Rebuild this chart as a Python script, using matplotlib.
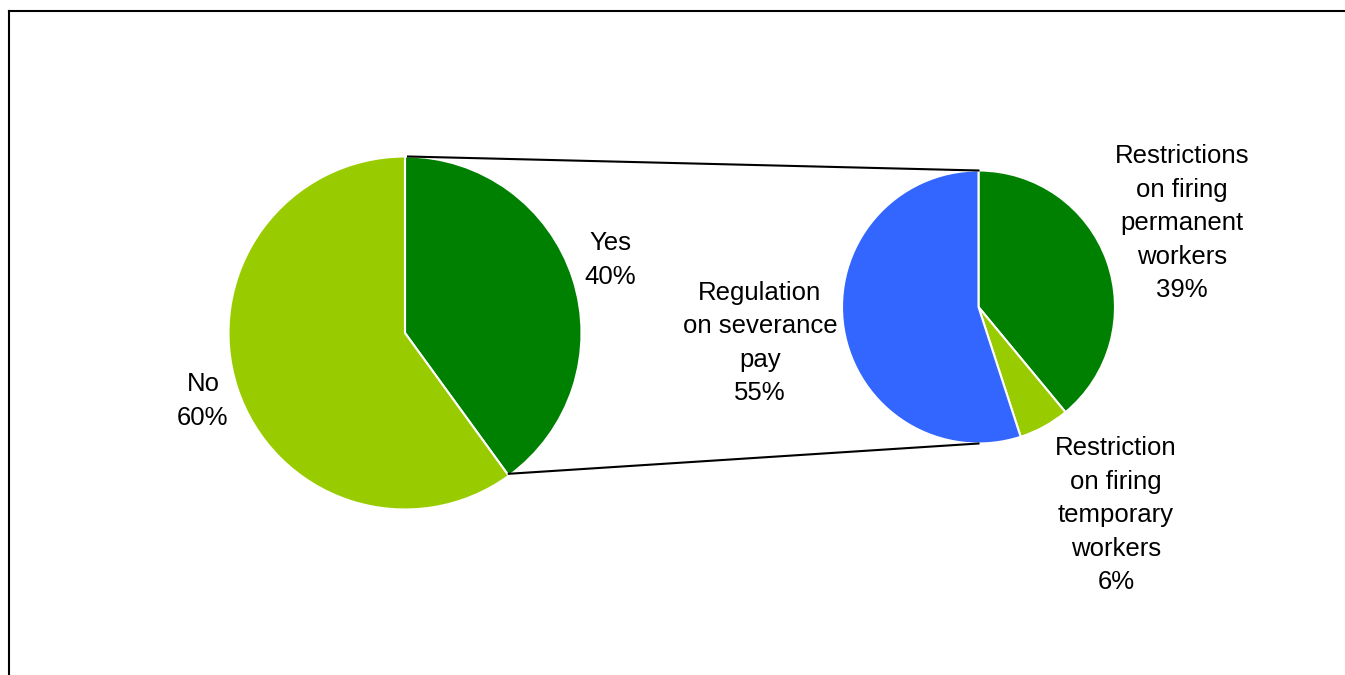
import numpy as np
import matplotlib
matplotlib.use("Agg")
import matplotlib.pyplot as plt
from matplotlib.lines import Line2D

plt.rcParams['font.family'] = ['Liberation Sans', 'DejaVu Sans']

# Primary breakdown
main_labels = ["Yes", "No"]
main_values = [40, 60]
main_colors = ["#008000", "#99CC00"]

# Breakdown of the "Yes" share
sub_labels = ["Restrictions\non firing\npermanent\nworkers",
              "Restriction\non firing\ntemporary\nworkers",
              "Regulation\non severance\npay"]
sub_values = [39, 6, 55]
sub_colors = ["#008000", "#99CC00", "#3366FF"]

W, H = 1345, 675
fig = plt.figure(figsize=(W / 100, H / 100), dpi=100)
ax = fig.add_axes([0, 0, 1, 1])

c1, r1 = (405, 342), 176.5
c2, r2 = (978.5, 368), 136.5

wp = dict(edgecolor='white', linewidth=1.5)
ax.pie(main_values, colors=main_colors, startangle=90, counterclock=False,
       center=c1, radius=r1, wedgeprops=wp, frame=True)
ax.pie(sub_values, colors=sub_colors, startangle=90, counterclock=False,
       center=c2, radius=r2, wedgeprops=wp, frame=True)
ax.set_xlim(0, W)
ax.set_ylim(0, H)
ax.set_aspect('equal')
ax.axis('off')

# Connectors from the "Yes" wedge to the secondary pie
yes_end = np.deg2rad(90 - 360 * main_values[0] / sum(main_values))
p_top = (c1[0], c1[1] + r1)
p_bot = (c1[0] + r1 * np.cos(yes_end), c1[1] + r1 * np.sin(yes_end))
q_top = (c2[0], c2[1] + r2)
q_bot = (c2[0], c2[1] - r2)
ax.plot([p_top[0] + 3, q_top[0]], [p_top[1], q_top[1]], color='black', lw=1.5, zorder=5)
ax.plot([p_bot[0], q_bot[0]], [p_bot[1] + 2, q_bot[1]], color='black', lw=1.5, zorder=5)

fs = 18.5
def lab(x, y, s):
    ax.text(x, H - y, s, ha='center', va='center', fontsize=fs, linespacing=1.5)

lab(610, 260, f"{main_labels[0]}\n{main_values[0]}%")
lab(203, 401, f"{main_labels[1]}\n{main_values[1]}%")
lab(1182, 223, f"{sub_labels[0]}\n{sub_values[0]}%")
lab(1116, 515, f"{sub_labels[1]}\n{sub_values[1]}%")
lab(760, 343, f"{sub_labels[2]}\n{sub_values[2]}%")

# Chart border (top and left edges visible)
fig.add_artist(Line2D([8.5 / W, 1], [1 - 10.5 / H, 1 - 10.5 / H], color='black', lw=1.5,
                      transform=fig.transFigure))
fig.add_artist(Line2D([8.5 / W, 8.5 / W], [0, 1 - 10.5 / H], color='black', lw=1.5,
                      transform=fig.transFigure))

fig.savefig("out.png", dpi=100, facecolor='white')
